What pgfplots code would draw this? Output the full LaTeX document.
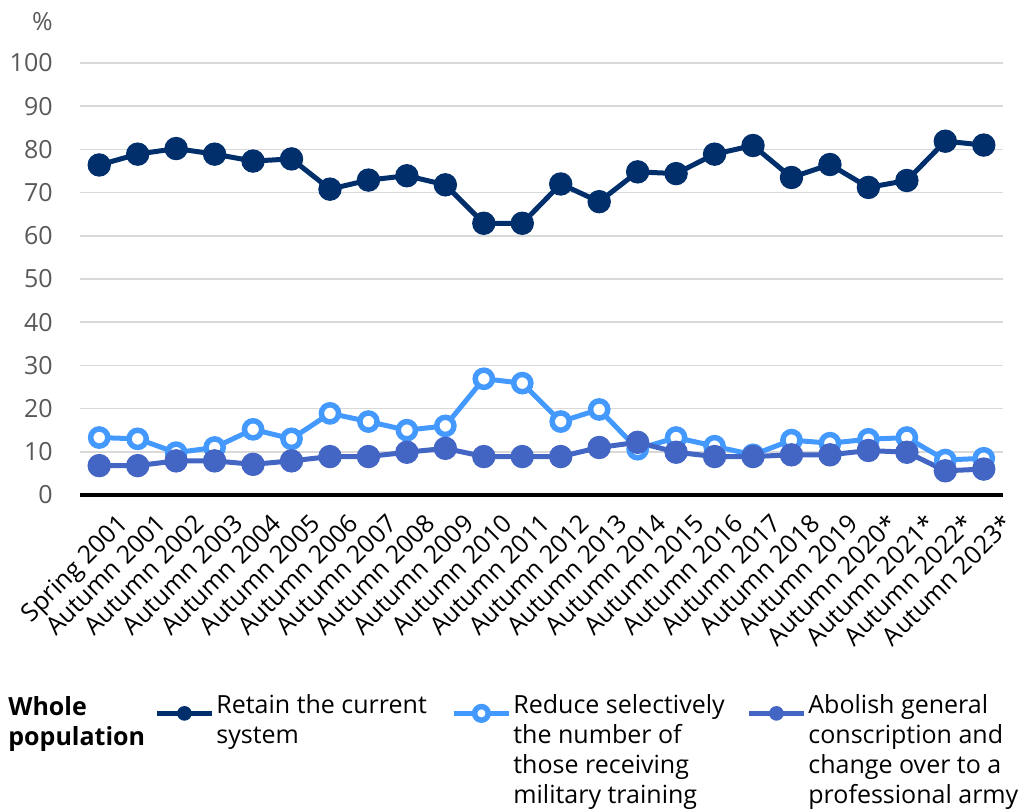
\documentclass[border=0pt]{standalone}
\usepackage{pgfplots}
\usepackage{pgfplotstable}
\pgfplotsset{compat=1.18}
\usepackage{fontspec}
\setmainfont{Open Sans}
\definecolor{retain}{RGB}{0,47,108}
\definecolor{reduce}{RGB}{68,153,255}
\definecolor{abolish}{RGB}{67,101,196}
\definecolor{gridgray}{RGB}{217,217,217}
\definecolor{ticktext}{RGB}{89,89,89}

% columns: survey index, retain current system, reduce selectively, abolish conscription
\pgfplotstableread{
x  retain reduce abolish
0  76.4   13.3   6.8
1  78.9   13.0   6.8
2  80.2    9.8   7.9
3  78.9   11.0   7.9
4  77.3   15.2   7.1
5  77.8   13.0   7.9
6  70.8   18.9   8.9
7  72.9   17.0   8.9
8  73.9   15.0   9.9
9  71.8   16.0  10.8
10 62.9   26.9   8.9
11 62.9   25.9   8.9
12 72.0   17.0   8.9
13 67.9   19.8  11.0
14 74.8   10.6  12.2
15 74.4   13.3   9.9
16 78.9   11.3   8.9
17 80.9    9.3   8.9
18 73.5   12.7   9.3
19 76.5   12.0   9.3
20 71.2   12.9  10.3
21 72.8   13.3   9.9
22 81.9    8.1   5.6
23 81.0    8.5   6.0
}\surveydata

\begin{document}
\fontsize{12.5}{15}\selectfont
\begin{tikzpicture}[font=\fontsize{12.5}{15}\selectfont]
\path (-40pt,-157.5pt) rectangle (477pt,247.5pt);
\begin{axis}[
    scale only axis,
    width=461.5pt, height=216pt,
    xmin=-0.5, xmax=23.5,
    ymin=0, ymax=100,
    axis x line*=bottom,
    axis y line*=left,
    y axis line style={draw=none},
    x axis line style={black, line width=2pt},
    major tick length=0pt,
    ytick={0,10,...,100},
    ymajorgrids,
    grid style={gridgray, line width=0.75pt},
    /pgf/number format/assume math mode=true,
    yticklabel style={ticktext, inner sep=0pt, xshift=-13.5pt},
    xtick={0,...,23},
    xticklabels={Spring 2001, Autumn 2001, Autumn 2002, Autumn 2003, Autumn 2004,
        Autumn 2005, Autumn 2006, Autumn 2007, Autumn 2008, Autumn 2009,
        Autumn 2010, Autumn 2011, Autumn 2012, Autumn 2013, Autumn 2014,
        Autumn 2015, Autumn 2016, Autumn 2017, Autumn 2018, Autumn 2019,
        Autumn 2020*, Autumn 2021*, Autumn 2022*, Autumn 2023*},
    xticklabel style={rotate=45, anchor=north east, inner sep=0pt, black,
        xshift=0pt, yshift=-12pt},
    legend columns=3,
    legend style={draw=none, fill=none, at={(0.0802,-0.4606)}, anchor=north west,
        inner sep=0pt, cells={anchor=base west}, nodes={inner sep=0pt},
        /tikz/every odd column/.append style={column sep=1pt}},
    legend image code/.code={
        \draw[#1, mark repeat=2, mark phase=2, mark size=3.4pt]
            plot coordinates {(0pt,0pt) (13.75pt,0pt) (27.5pt,0pt)};
    },
]
\addplot[retain, line width=2.5pt, mark=*, mark size=5.6pt,
    mark options={line width=0.5pt}] table[x=x, y=retain] {\surveydata};
\addlegendentry{\parbox[t]{117.5pt}{\raggedright Retain the current\\system}}
\addplot[reduce, line width=2.5pt, mark=*, mark size=4.3pt,
    mark options={fill=white, line width=2.75pt}] table[x=x, y=reduce] {\surveydata};
\addlegendentry{\parbox[t]{116.5pt}{\raggedright Reduce selectively\\the number of\\those receiving\\military training}}
\addplot[abolish, line width=2.5pt, mark=*, mark size=5.6pt,
    mark options={line width=0.5pt}] table[x=x, y=abolish] {\surveydata};
\addlegendentry{\parbox[t]{108pt}{\raggedright Abolish general\\conscription and\\change over to a\\professional army}}
\end{axis}
\node[anchor=east, inner sep=0pt, ticktext] at (-13.5pt,236.5pt) {\%};
\node[anchor=base west, inner sep=0pt] at (-36pt,-110pt)
    {\parbox[t]{80pt}{\bfseries Whole\\population}};
\end{tikzpicture}
\end{document}
